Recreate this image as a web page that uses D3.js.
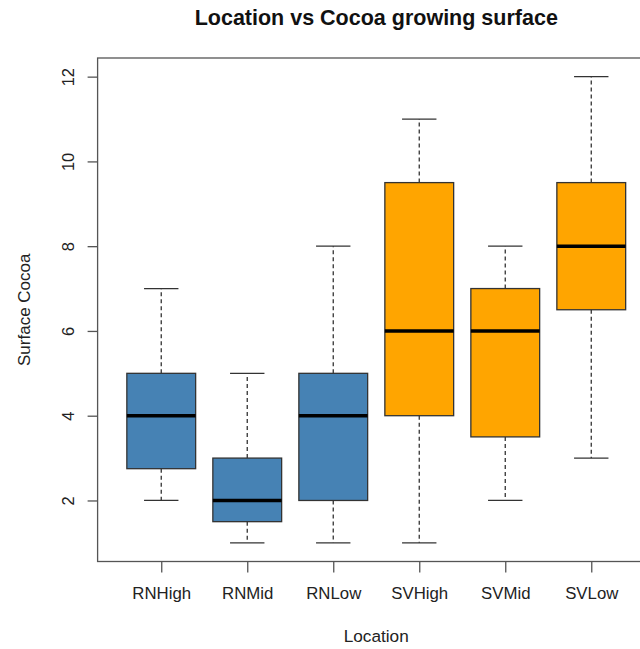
<!DOCTYPE html>
<html>
<head>
<meta charset="utf-8">
<script src="https://cdn.jsdelivr.net/npm/d3@7"></script>
<style>
  html, body { margin: 0; padding: 0; background: #fff; }
  svg { display: block; font-family: "Liberation Sans", Arial, sans-serif; }
</style>
</head>
<body>
<svg id="chart" width="640" height="649"></svg>
<script>
// Surface of cocoa by location: five-number summaries per group
const categories = ["RNHigh", "RNMid", "RNLow", "SVHigh", "SVMid", "SVLow"];
const mins    = [2,    1,   1, 1,   2,   3];
const q1s     = [2.75, 1.5, 2, 4,   3.5, 6.5];
const medians = [4,    2,   4, 6,   6,   8];
const q3s     = [5,    3,   5, 9.5, 7,   9.5];
const maxs    = [7,    5,   8, 11,  8,   12];
const fills   = ["#4682B4", "#4682B4", "#4682B4", "#FFA500", "#FFA500", "#FFA500"];
const yTicks  = [2, 4, 6, 8, 10, 12];

const svg = d3.select("#chart");

const plotL = 97.6, plotR = 654.9, plotT = 58, plotB = 561.5;
const x = d3.scaleLinear().domain([0.26, 6.74]).range([plotL, plotR]);
const y = d3.scaleLinear().domain([0.56, 12.44]).range([plotB, plotT]);

const boxHalf = 0.4, capHalf = 0.2;
const ink = "#333";

const data = categories.map((c, i) => ({
  name: c, pos: i + 1,
  min: mins[i], q1: q1s[i], med: medians[i], q3: q3s[i], max: maxs[i], fill: fills[i]
}));

const g = svg.append("g");
const box = g.selectAll("g.box").data(data).join("g").attr("class", "box");

// whiskers (dashed)
box.append("line")
  .attr("x1", d => x(d.pos)).attr("x2", d => x(d.pos))
  .attr("y1", d => y(d.q3)).attr("y2", d => y(d.max))
  .attr("stroke", ink).attr("stroke-width", 1.3).attr("stroke-dasharray", "4,3");
box.append("line")
  .attr("x1", d => x(d.pos)).attr("x2", d => x(d.pos))
  .attr("y1", d => y(d.q1)).attr("y2", d => y(d.min))
  .attr("stroke", ink).attr("stroke-width", 1.3).attr("stroke-dasharray", "4,3");

// staples
box.append("line")
  .attr("x1", d => x(d.pos - capHalf)).attr("x2", d => x(d.pos + capHalf))
  .attr("y1", d => y(d.max)).attr("y2", d => y(d.max))
  .attr("stroke", ink).attr("stroke-width", 1.3);
box.append("line")
  .attr("x1", d => x(d.pos - capHalf)).attr("x2", d => x(d.pos + capHalf))
  .attr("y1", d => y(d.min)).attr("y2", d => y(d.min))
  .attr("stroke", ink).attr("stroke-width", 1.3);

// boxes
box.append("rect")
  .attr("x", d => x(d.pos - boxHalf))
  .attr("width", d => x(d.pos + boxHalf) - x(d.pos - boxHalf))
  .attr("y", d => y(d.q3))
  .attr("height", d => y(d.q1) - y(d.q3))
  .attr("fill", d => d.fill)
  .attr("stroke", ink).attr("stroke-width", 1.3);

// medians
box.append("line")
  .attr("x1", d => x(d.pos - boxHalf)).attr("x2", d => x(d.pos + boxHalf))
  .attr("y1", d => y(d.med)).attr("y2", d => y(d.med))
  .attr("stroke", "#000").attr("stroke-width", 3.5);

// plot frame
svg.append("rect")
  .attr("x", plotL).attr("y", plotT)
  .attr("width", plotR - plotL).attr("height", plotB - plotT)
  .attr("fill", "none").attr("stroke", "#555").attr("stroke-width", 1.3);

// y axis
const yAxis = svg.append("g")
  .attr("transform", `translate(${plotL},0)`)
  .call(d3.axisLeft(y).tickValues(yTicks).tickSize(10).tickFormat(d3.format("d")));
yAxis.select(".domain").remove();
yAxis.selectAll(".tick line").attr("stroke", "#555").attr("stroke-width", 1.3);
yAxis.selectAll(".tick text")
  .attr("x", null).attr("dy", null).attr("y", null)
  .attr("transform", "translate(-29,0) rotate(-90)")
  .attr("text-anchor", "middle")
  .attr("dy", "0.35em")
  .attr("fill", "#222")
  .style("font-size", "16.5px")
  .style("font-family", "Liberation Sans, Arial, sans-serif");

// x axis
const xAxis = svg.append("g")
  .attr("transform", `translate(0,${plotB})`)
  .call(d3.axisBottom(x).tickValues(data.map(d => d.pos)).tickSize(11)
    .tickFormat((d, i) => categories[i]));
xAxis.select(".domain").remove();
xAxis.selectAll(".tick line").attr("stroke", "#555").attr("stroke-width", 1.3);
xAxis.selectAll(".tick text")
  .attr("y", 37.5).attr("dy", null)
  .attr("fill", "#222")
  .style("font-size", "16.8px")
  .style("font-family", "Liberation Sans, Arial, sans-serif");

// titles
svg.append("text")
  .attr("x", (plotL + plotR) / 2).attr("y", 24.5)
  .attr("text-anchor", "middle")
  .attr("font-weight", "bold").attr("font-size", 21.5).attr("fill", "#111")
  .text("Location vs Cocoa growing surface");

svg.append("text")
  .attr("x", (plotL + plotR) / 2).attr("y", 642)
  .attr("text-anchor", "middle")
  .attr("font-size", 17.2).attr("fill", "#222")
  .text("Location");

svg.append("text")
  .attr("transform", `translate(30,${(plotT + plotB) / 2}) rotate(-90)`)
  .attr("text-anchor", "middle")
  .attr("font-size", 17).attr("fill", "#222")
  .text("Surface Cocoa");
</script>
</body>
</html>
